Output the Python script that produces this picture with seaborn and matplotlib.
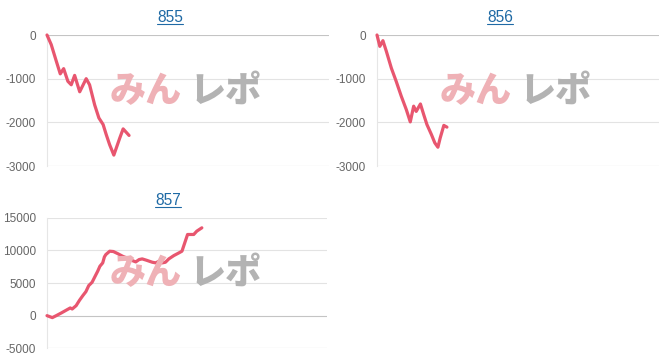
import matplotlib
matplotlib.use("Agg")
import matplotlib.pyplot as plt
from matplotlib.lines import Line2D
import seaborn as sns
import pandas as pd

# ---------------- data ----------------
titles = ["855", "856", "857"]

x_855 = [0, 1.5, 3.3, 4.7, 5.9, 7.4, 8.6, 9.8, 11.6, 13.9, 15.1, 16.9, 18.4, 19.9,
         21.0, 22.2, 23.7, 25.8, 27.0, 29.1]
y_855 = [0, -220, -600, -890, -770, -1060, -1140, -925, -1300, -1000, -1140, -1600,
         -1900, -2050, -2280, -2510, -2750, -2360, -2150, -2300]

x_856 = [0, 1.0, 2.1, 3.3, 5.1, 6.8, 8.6, 10.4, 11.8, 13.0, 13.9, 15.4, 16.6, 17.7,
         19.3, 20.5, 21.6, 22.4, 23.7, 24.8]
y_856 = [0, -260, -130, -370, -760, -1060, -1400, -1710, -1990, -1630, -1750, -1580,
         -1830, -2050, -2280, -2470, -2570, -2360, -2070, -2110]

x_857 = [0, 1.9, 3.3, 5.1, 6.8, 8.3, 9.0, 10.4, 11.6, 12.8, 13.9, 14.9, 16.1, 17.3,
         18.1, 18.9, 19.9, 20.5, 21.0, 22.4, 23.7, 25.2, 27.0, 28.4, 29.5, 31.1, 31.7,
         32.9, 34.0, 35.5, 37.6, 38.8, 40.0, 41.1, 42.3, 43.5, 45.3, 47.1, 48.2, 49.2,
         50.2, 51.2, 52.4, 53.5, 55.3]
y_857 = [0, -300, 0, 410, 820, 1180, 1020, 1530, 2350, 3070, 3680, 4600, 5110, 6130,
         6800, 7570, 8080, 9000, 9350, 9870, 9820, 9510, 9100, 8850, 8590, 8330, 8230,
         8590, 8690, 8490, 8180, 8080, 8330, 8080, 8180, 8690, 9200, 9610, 9870, 11150,
         12430, 12430, 12430, 12940, 13450]

yticks_small = [0, -1000, -2000, -3000]
yticks_857 = [15000, 10000, 5000, 0, -5000]

# ---------------- style ----------------
sns.set_style("white")
plt.rcParams["font.family"] = ["Liberation Sans", "DejaVu Sans"]

W, H = 664, 361
fig = plt.figure(figsize=(W / 100, H / 100), dpi=100)

LINE = "#e8566f"
GRID = "#e3e3e3"
AXLINE = "#c4c4c4"
TICKC = "#666666"
TITLEC = "#1f6aa5"
PINK = "#efb1b6"
GRAY = "#b3b3b3"


def px_axes(left, top, right, bottom):
    return fig.add_axes([left / W, 1 - bottom / H, (right - left) / W, (bottom - top) / H])


panels = [
    dict(x=x_855, y=y_855, ticks=yticks_small, box=(47, 35, 329, 166), tx=170, ty=22, wm=(186, 91)),
    dict(x=x_856, y=y_856, ticks=yticks_small, box=(377, 35, 659, 166), tx=500, ty=22, wm=(516, 91)),
    dict(x=x_857, y=y_857, ticks=yticks_857, box=(47, 217.7, 327, 348.3), tx=168, ty=205, wm=(186, 273)),
]

title_texts = []
for p, title in zip(panels, titles):
    ax = px_axes(*p["box"])
    df = pd.DataFrame({"x": p["x"], "y": p["y"]})
    ylo, yhi = min(p["ticks"]), max(p["ticks"])
    for t in p["ticks"]:
        c = AXLINE if t in (0, ylo) else GRID
        ax.axhline(t, color=c, lw=0.8, zorder=1)
    sns.lineplot(data=df, x="x", y="y", ax=ax, color=LINE, lw=2.3, zorder=5,
                 clip_on=False)
    ax.set_xlim(0, 100)
    ax.set_ylim(ylo, yhi)
    ax.set_yticks(p["ticks"])
    ax.set_yticklabels([str(t) for t in p["ticks"]])
    ax.set_xticks([])
    ax.set_xlabel("")
    ax.set_ylabel("")
    for s in ["top", "right", "bottom"]:
        ax.spines[s].set_visible(False)
    ax.spines["left"].set_color("#e6e6e6")
    ax.spines["left"].set_linewidth(0.8)
    ax.tick_params(axis="y", length=7, width=0.7, color="#cccccc", pad=1,
                   labelsize=8.5, labelcolor=TICKC)
    ax.patch.set_alpha(0)

    # watermark (behind the line)
    cx, cy = p["wm"]
    fig.text((cx - 40) / W, 1 - cy / H, "みん", ha="center", va="center",
             fontsize=26, fontweight="heavy", color=PINK,
             family=["Noto Sans CJK JP", "DejaVu Sans"], zorder=0)
    fig.text((cx + 40) / W, 1 - cy / H, "レポ", ha="center", va="center",
             fontsize=26, fontweight="heavy", color=GRAY,
             family=["Noto Sans CJK JP", "DejaVu Sans"], zorder=0)

    tt = fig.text(p["tx"] / W, 1 - p["ty"] / H, title, ha="center", va="baseline",
                  fontsize=11.2, color=TITLEC)
    title_texts.append(tt)

# underline titles
fig.canvas.draw()
r = fig.canvas.get_renderer()
for tt in title_texts:
    bb = tt.get_window_extent(r)
    x0, y0 = tt.get_transform().transform(tt.get_position())
    yline = (y0 - 2) / H
    fig.add_artist(Line2D([bb.x0 / W, bb.x1 / W], [yline, yline], color=TITLEC, lw=0.8))

fig.savefig("out.png", dpi=100)
